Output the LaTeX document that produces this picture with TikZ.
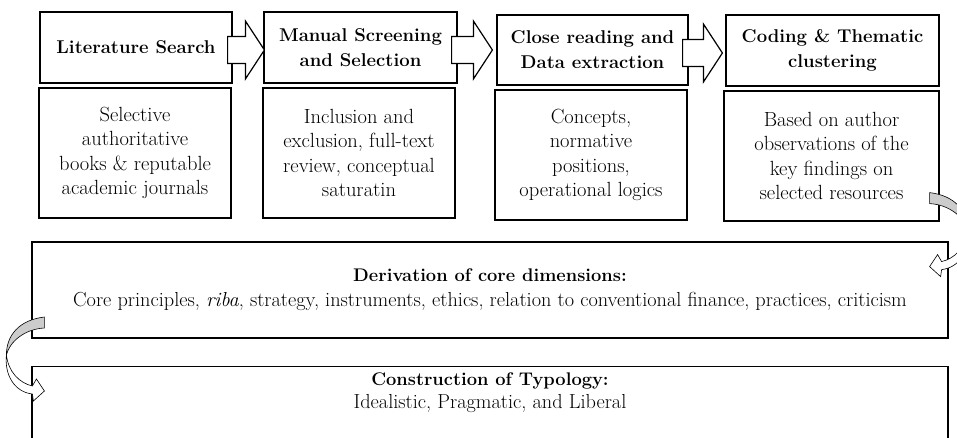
\documentclass[tikz,border=0pt]{standalone}
\usetikzlibrary{calc}
\newcommand{\mybodyfont}{\fontsize{20.5}{24.3}\selectfont}
\newcommand{\myheadfont}{\fontsize{18.5}{25}\selectfont\bfseries}
\tikzset{
  box/.style={draw=black, line width=1.2pt, fill=white, inner sep=0pt, align=center, font=\mybodyfont},
  hbox/.style={box, font=\myheadfont},
  barrow/.style={draw=black, fill=white, line width=1.2pt, line join=miter},
  cgray/.style={draw=black, fill=black!20, line width=0.6pt},
  cwhite/.style={draw=black, fill=white, line width=0.6pt},
}
\newcommand{\blockarr}[2]{%
  \filldraw[barrow] ($(#1)+(0,-13.5)$) -- ($(#2 |- #1)+(-19,-13.5)$) -- ($(#2 |- #1)+(-19,-29)$)
    -- (#2 |- #1) -- ($(#2 |- #1)+(-19,29)$) -- ($(#2 |- #1)+(-19,13.5)$) -- ($(#1)+(0,13.5)$) -- cycle;}
\newcommand{\curvedarr}{%
  \filldraw[cgray] (0,0) .. controls (-25,3) and (-38,18) .. (-38,38)
    .. controls (-35,25) and (-20,12) .. (0,11) -- cycle;
  \filldraw[cwhite] (-38,38) .. controls (-36,55) and (-25,66) .. (-12,69) -- (-8,62) -- (0,74)
    -- (-11,84) -- (-12,77) .. controls (-30,75) and (-40,58) .. (-38,38) -- cycle;}
\begin{document}
\begin{tikzpicture}[x=1pt,y=-1pt]
\useasboundingbox (0,0) rectangle (957,438);
\clip (0,0) rectangle (957,438);
% header boxes
\node[hbox, minimum width=192, minimum height=71] (h1) at (136,47.5) {Literature Search};
\node[hbox, minimum width=193, minimum height=71] (h2) at (360.5,47.5) {Manual Screening\\and Selection};
\node[hbox, minimum width=191, minimum height=70] (h3) at (592.5,50) {Close reading and\\Data extraction};
\node[hbox, minimum width=213, minimum height=71] (h4) at (832.5,50.5) {Coding \& Thematic\\clustering};
% body boxes
\node[box, minimum width=192, minimum height=130] (b1) at (135,153) {Selective\\authoritative\\books \& reputable\\academic journals};
\node[box, minimum width=192, minimum height=130] (b2) at (359,153) {Inclusion and\\exclusion, full-text\\review, conceptual\\saturatin};
\node[box, minimum width=192, minimum height=130] (b3) at (591,155) {Concepts,\\normative\\positions,\\operational logics};
\node[box, minimum width=215, minimum height=130] (b4) at (831.5,156) {Based on author\\observations of the\\key findings on\\selected resources};
% wide boxes
\node[box, minimum width=916, minimum height=96, font=\fontsize{20.3}{25}\selectfont] (deriv) at (490,290)
  {{\fontsize{18.3}{25}\selectfont\bfseries Derivation of core dimensions:}\\Core principles, \textit{riba}, strategy, instruments, ethics, relation to conventional finance, practices, criticism};
\node[box, anchor=north, minimum width=916, minimum height=120] (typo) at (490,366) {};
\node[align=center, inner sep=0pt, font=\fontsize{20.3}{23}\selectfont] (typotext) at ($(typo.north)+(0,27)$)
  {{\fontsize{18.3}{23}\selectfont\bfseries Construction of Typology:}\\Idealistic, Pragmatic, and Liberal};
% block arrows
\coordinate (a1s) at ($(h1.east)+(-5,2.5)$);
\coordinate (a1t) at ($(h2.west)+(1,2.5)$);
\coordinate (a2s) at ($(h2.east)+(-6,2.5)$);
\coordinate (a2t) at ($(h3.west)+(-4,0)$);
\coordinate (a3s) at ($(h3.east)+(-6,3)$);
\coordinate (a3t) at ($(h4.west)+(-3,3)$);
\blockarr{a1s}{a1t}
\blockarr{a2s}{a2t}
\blockarr{a3s}{a3t}
% curved arrows
\begin{scope}[shift={($(b4.south east)+(-10,-29)$)}, xscale=-1]
  \curvedarr
\end{scope}
\begin{scope}[shift={($(deriv.west)+(13,27)$)}]
  \curvedarr
\end{scope}
\end{tikzpicture}
\end{document}
